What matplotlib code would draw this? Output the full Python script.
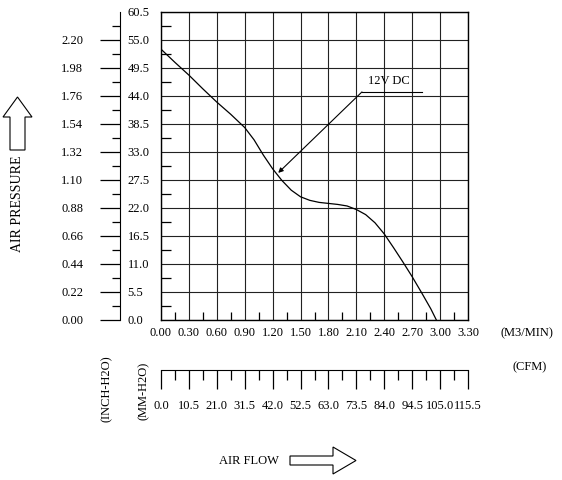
import numpy as np
import matplotlib
matplotlib.use("Agg")
import matplotlib.pyplot as plt
from matplotlib.patches import Polygon

plt.rcParams['font.family'] = ['Liberation Serif', 'DejaVu Serif']

# ---- data ----
flow_m3min = [0.00, 0.15, 0.30, 0.45, 0.60, 0.75, 0.90, 1.00, 1.10, 1.20, 1.30, 1.40,
              1.50, 1.60, 1.70, 1.80, 1.90, 2.00, 2.10, 2.20, 2.30, 2.40, 2.50, 2.60,
              2.70, 2.80, 2.90, 2.96]
pressure_mm = [53.2, 50.6, 48.1, 45.4, 42.8, 40.4, 37.8, 35.4, 32.4, 29.7, 27.4, 25.5,
               24.2, 23.5, 23.1, 22.9, 22.7, 22.4, 21.7, 20.7, 19.1, 16.9, 14.2, 11.4,
               8.5, 5.4, 2.2, 0.0]
m3min_ticks = [0.00, 0.30, 0.60, 0.90, 1.20, 1.50, 1.80, 2.10, 2.40, 2.70, 3.00, 3.30]
mm_ticks = [0.0, 5.5, 11.0, 16.5, 22.0, 27.5, 33.0, 38.5, 44.0, 49.5, 55.0, 60.5]
inch_ticks = [0.00, 0.22, 0.44, 0.66, 0.88, 1.10, 1.32, 1.54, 1.76, 1.98, 2.20]
cfm_ticks = [0.0, 10.5, 21.0, 31.5, 42.0, 52.5, 63.0, 73.5, 84.0, 94.5, 105.0, 115.5]
curve_label = "12V DC"
label_point = (1.26, 28.9)
leader_x = [2.16, 2.81]
leader_y = 44.8

W, H = 562, 480
fig = plt.figure(figsize=(W / 100, H / 100), dpi=100)

def px(x0, y0, x1, y1):
    return [x0 / W, 1 - y1 / H, (x1 - x0) / W, (y1 - y0) / H]

def fx(x):
    return x / W

def fy(y):
    return 1 - y / H

FS = 9

# ---- main axes ----
ax = fig.add_axes(px(161, 12, 468, 320))
ax.plot(flow_m3min, pressure_mm, color='black', lw=0.9, solid_joinstyle='round')
ax.set_xlim(0, 3.30)
ax.set_ylim(0, 60.5)
ax.set_xticks(m3min_ticks)
ax.set_xticklabels([f"{v:.2f}" for v in m3min_ticks], fontsize=FS)
ax.set_yticks(mm_ticks)
ax.set_yticklabels([f"{v:.1f}" for v in mm_ticks], fontsize=FS)
for lbl in ax.get_yticklabels():
    lbl.set_horizontalalignment('left')
ax.tick_params(axis='y', which='major', length=0, pad=24)
ax.tick_params(axis='x', which='major', length=0, pad=5)
ax.set_xticks([v + 0.15 for v in m3min_ticks[:-1]], minor=True)
ax.set_yticks([v + 2.75 for v in mm_ticks[:-1]], minor=True)
ax.tick_params(axis='x', which='minor', direction='in', length=6, width=0.9)
ax.tick_params(axis='y', which='minor', direction='in', length=7.5, width=0.9)
ax.grid(True, which='major', color='#222222', lw=0.8)
for s in ax.spines.values():
    s.set_linewidth(1.0)

# annotation
ax.annotate("", xy=label_point, xytext=(leader_x[0], leader_y),
            arrowprops=dict(arrowstyle='-|>', color='black', lw=0.8,
                            shrinkA=0, shrinkB=0, mutation_scale=7))
ax.plot(leader_x, [leader_y, leader_y], color='black', lw=0.8)
ax.text(leader_x[0] + 0.07, leader_y + 1.0, curve_label, fontsize=FS,
        ha='left', va='bottom')

# ---- inch-H2O axis ----
ai = fig.add_axes(px(120, 12, 121, 320))
ai.set_ylim(0, 2.42)
ai.set_xticks([])
for k in ['top', 'right', 'bottom']:
    ai.spines[k].set_visible(False)
ai.patch.set_visible(False)
ai.set_yticks(inch_ticks)
ai.set_yticklabels([f"{v:.2f}" for v in inch_ticks], fontsize=FS)
ai.set_yticks([v + 0.11 for v in inch_ticks], minor=True)
ai.tick_params(axis='y', which='major', length=14.5, width=0.9, pad=12)
ai.tick_params(axis='y', which='minor', length=6, width=0.9)

# ---- CFM axis ----
ac = fig.add_axes(px(161, 369, 468, 370))
ac.set_xlim(0, 115.5)
ac.set_yticks([])
for k in ['top', 'right', 'left']:
    ac.spines[k].set_visible(False)
ac.patch.set_visible(False)
ac.set_xticks(cfm_ticks)
ac.set_xticklabels([f"{v:.1f}" for v in cfm_ticks], fontsize=FS)
ac.set_xticks([v + 5.25 for v in cfm_ticks[:-1]], minor=True)
ac.tick_params(axis='x', which='major', length=13.5, width=0.9, pad=8)
ac.tick_params(axis='x', which='minor', length=7, width=0.9)

# ---- labels ----
fig.text(fx(527), fy(333), "(M3/MIN)", fontsize=FS, ha='center', va='center')
fig.text(fx(530), fy(367), "(CFM)", fontsize=FS, ha='center', va='center')
fig.text(fx(107), fy(389), "(INCH-H2O)", fontsize=FS, rotation=90, ha='center', va='center')
fig.text(fx(144), fy(391), "(MM-H2O)", fontsize=FS, rotation=90, ha='center', va='center')
fig.text(fx(18), fy(204), "AIR PRESSURE", fontsize=10, rotation=90, ha='center', va='center')
fig.text(fx(249), fy(461), "AIR FLOW", fontsize=FS, ha='center', va='center')

# up arrow
up = [(10, 150), (25, 150), (25, 117), (32, 117), (17.5, 97), (3, 117), (10, 117)]
fig.patches.append(Polygon([(fx(a), fy(b)) for a, b in up], closed=True, fill=False,
                           edgecolor='black', lw=0.8, transform=fig.transFigure))
# right arrow
rt = [(290, 456), (333, 456), (333, 447), (356, 460.5), (333, 474), (333, 465), (290, 465)]
fig.patches.append(Polygon([(fx(a), fy(b)) for a, b in rt], closed=True, fill=False,
                           edgecolor='black', lw=0.8, transform=fig.transFigure))

fig.savefig("out.png", dpi=100)
